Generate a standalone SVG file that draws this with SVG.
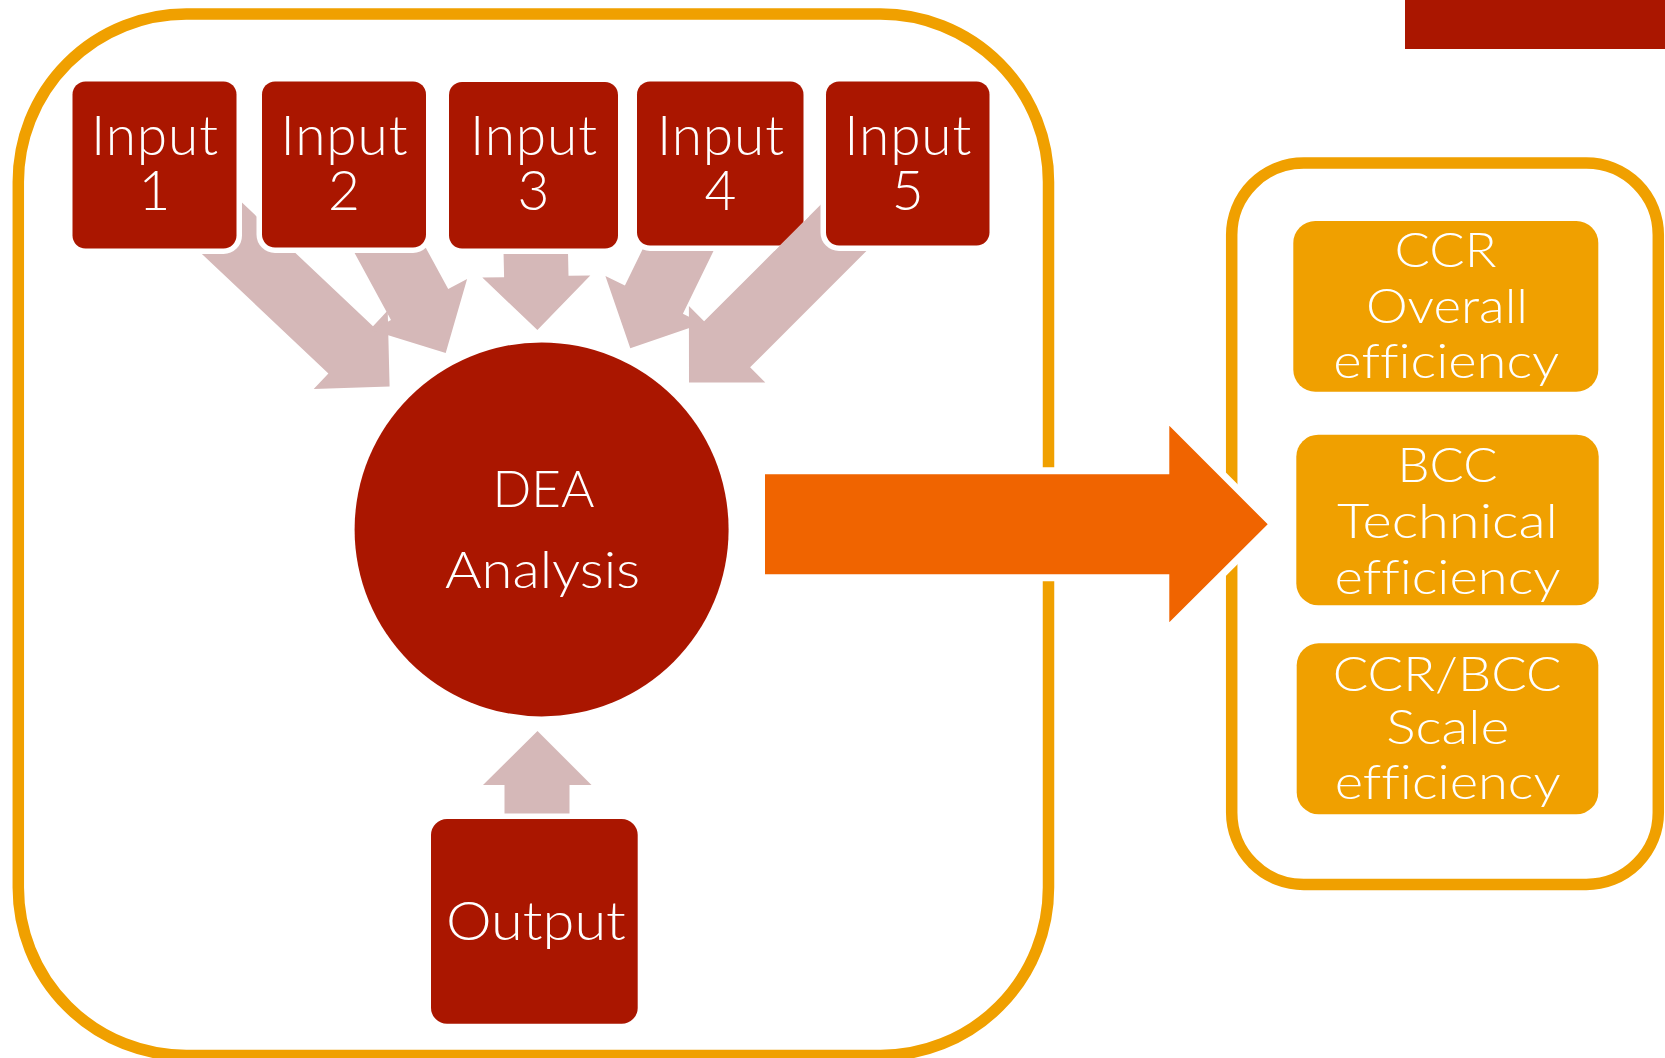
<svg xmlns="http://www.w3.org/2000/svg" width="1665" height="1058" viewBox="0 0 1665 1058">
  <style>
    .container { fill: none; stroke: #F0A000; stroke-width: 11.5; }
    .box { fill: #AA1600; stroke: #FFFFFF; stroke-width: 11; paint-order: stroke; }
    .res { fill: #F0A000; }
    .flow { fill: #D5B8B8; }
    .big { fill: #F06400; stroke: #FFFFFF; stroke-width: 14; stroke-linejoin: miter; paint-order: stroke; }
    .t { font-family: Lato, "Open Sans", "Liberation Sans", sans-serif; font-weight: 300; fill: #FFFFFF; text-anchor: middle; font-variant-ligatures: none; font-feature-settings: "liga" 0; }
    .ti { font-size: 55px; }
    .td { font-size: 52px; }
    .to { font-size: 54px; }
    .tr { font-size: 47px; }
  </style>
  <defs>
    <clipPath id="clip-box4">
      <path clip-rule="evenodd" d="M0 0H1665V1058H0Z M841.6 183.8 L704.1 321.3 L688.9 306.1 L689 382.4 L765.3 382.5 L750.1 367.3 L887.6 229.8 Z"/>
    </clipPath>
  </defs>

  <rect id="corner-bar" x="1405" y="0" width="260" height="49" fill="#AA1600"/>

  <g id="containers">
    <rect id="analysis-frame" class="container" x="18.3" y="14" width="1030.2" height="1041.5" rx="168" ry="168"/>
    <rect id="results-frame" class="container" x="1231.7" y="163" width="426.6" height="721.5" rx="72" ry="72"/>
  </g>

  <g id="connectors">
    <polygon id="arrow-input1" class="flow" points="220,181.8 373,326.2 387.7,310.5 389.6,386.5 313.7,389.1 328.4,373.4 175.4,229"/>
    <polygon id="arrow-input2" class="flow" points="404.1,207.8 448.2,289.1 467.1,278.9 445.7,353 372.1,330.3 391,320.1 346.9,238.8"/>
    <polygon id="arrow-input3" class="flow" points="502.9,224.7 504.1,277.2 482.3,277.6 537.4,330 590.3,275.4 568.5,275.8 567.4,223.3"/>
    <polygon id="arrow-input4" class="flow" points="720.1,237.4 682.9,313.8 702.4,323.4 630.3,348.3 605.4,276 624.9,285.6 662.1,209.2"/>
    <polygon id="arrow-input5" class="flow" points="841.6,183.8 704.1,321.3 688.9,306.1 689,382.4 765.3,382.5 750.1,367.3 887.6,229.8"/>
    <polygon id="arrow-output" class="flow" points="504.5,840 504.5,785 483,785 537.5,731 591.5,785 569.5,785 569.5,840"/>
    <polygon id="arrow-results" class="big" points="765,474.3 1169.3,474.3 1169.3,425.7 1267.7,524.3 1169.3,622.3 1169.3,574.3 765,574.3"/>
  </g>

  <g id="input1">
    <rect class="box" x="72.5" y="81.5" width="164" height="167" rx="13" ry="13"/>
    <text class="t ti" x="154.5" y="155" textLength="127">Input</text>
    <text class="t ti" x="154.5" y="210">1</text>
  </g>
  <g id="input2">
    <rect class="box" x="262" y="81.5" width="164" height="166" rx="13" ry="13"/>
    <text class="t ti" x="344" y="155" textLength="127">Input</text>
    <text class="t ti" x="344" y="210">2</text>
  </g>
  <g id="input3">
    <rect class="box" x="449" y="82" width="169" height="166.5" rx="13" ry="13"/>
    <text class="t ti" x="533.5" y="155" textLength="127">Input</text>
    <text class="t ti" x="533.5" y="210">3</text>
  </g>
  <g id="input4">
    <rect class="box" x="637" y="81.5" width="166.5" height="164" rx="13" ry="13" clip-path="url(#clip-box4)"/>
    <text class="t ti" x="720.5" y="154.5" textLength="127">Input</text>
    <text class="t ti" x="720.5" y="209.5">4</text>
  </g>
  <g id="input5">
    <rect class="box" x="826" y="81.5" width="163.5" height="164" rx="13" ry="13"/>
    <text class="t ti" x="907.8" y="154.5" textLength="127">Input</text>
    <text class="t ti" x="907.8" y="209.5">5</text>
  </g>

  <g id="dea">
    <circle cx="541.6" cy="529.4" r="187" fill="#AA1600"/>
    <text class="t td" x="543.5" y="506.7" textLength="102" lengthAdjust="spacingAndGlyphs">DEA</text>
    <text class="t td" x="542.5" y="588.3" textLength="195" lengthAdjust="spacingAndGlyphs">Analysis</text>
  </g>

  <g id="output">
    <rect class="box" x="431" y="819" width="206.7" height="204.7" rx="16" ry="16"/>
    <text class="t to" x="535.9" y="940" textLength="180" lengthAdjust="spacingAndGlyphs">Output</text>
  </g>

  <g id="result-ccr">
    <rect class="res" x="1293.3" y="221" width="305" height="170.7" rx="22" ry="22"/>
    <text class="t tr" x="1445.5" y="266.7" textLength="102" lengthAdjust="spacingAndGlyphs">CCR</text>
    <text class="t tr" x="1447" y="323.3" textLength="162" lengthAdjust="spacingAndGlyphs">Overall</text>
    <text class="t tr" x="1446.3" y="378.3" textLength="226" lengthAdjust="spacingAndGlyphs">efficiency</text>
  </g>
  <g id="result-bcc">
    <rect class="res" x="1296.3" y="434.7" width="302.4" height="170.6" rx="22" ry="22"/>
    <text class="t tr" x="1447.5" y="481.5" textLength="100" lengthAdjust="spacingAndGlyphs">BCC</text>
    <text class="t tr" x="1447.5" y="537.5" textLength="221" lengthAdjust="spacingAndGlyphs">Technical</text>
    <text class="t tr" x="1447.5" y="593.5" textLength="226" lengthAdjust="spacingAndGlyphs">efficiency</text>
  </g>
  <g id="result-scale">
    <rect class="res" x="1296.7" y="643.3" width="301.6" height="171" rx="22" ry="22"/>
    <text class="t tr" x="1447.2" y="691" textLength="229" lengthAdjust="spacingAndGlyphs">CCR/BCC</text>
    <text class="t tr" x="1447.7" y="744" textLength="123" lengthAdjust="spacingAndGlyphs">Scale</text>
    <text class="t tr" x="1447.7" y="798.5" textLength="226" lengthAdjust="spacingAndGlyphs">efficiency</text>
  </g>
</svg>
